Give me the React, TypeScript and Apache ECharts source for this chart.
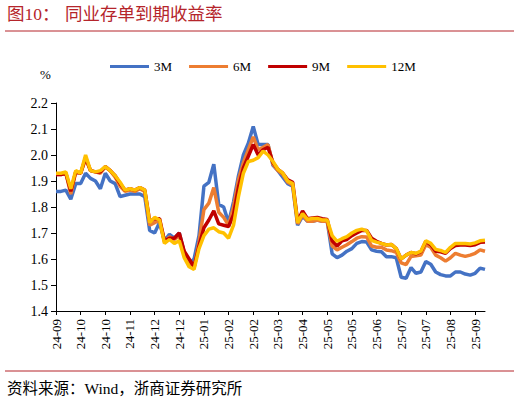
import React, { useEffect, useRef } from "react";
import * as echarts from "echarts";

const tickLabels = [
  "24-09", "24-10", "24-10", "24-11", "24-12", "24-12", "25-01", "25-02", "25-02",
  "25-03", "25-04", "25-05", "25-05", "25-06", "25-07", "25-07", "25-08", "25-09",
];
const POINTS_PER_TICK = 5;
const seriesNames = ["3M", "6M", "9M", "12M"];
const seriesColors = ["#4472C4", "#ED7D31", "#C00000", "#FFC000"];

const y3M = [
  1.86, 1.86, 1.865, 1.83, 1.89, 1.89, 1.93, 1.91, 1.9, 1.87,
  1.93, 1.9, 1.89, 1.84, 1.845, 1.85, 1.85, 1.85, 1.84, 1.71,
  1.7, 1.74, 1.67, 1.695, 1.68, 1.7, 1.625, 1.58, 1.6, 1.69,
  1.88, 1.895, 1.965, 1.81, 1.8, 1.74, 1.82, 1.92, 2.0, 2.045,
  2.11, 2.04, 2.04, 2.04, 1.96, 1.94, 1.915, 1.89, 1.88, 1.73,
  1.765, 1.745, 1.745, 1.75, 1.745, 1.745, 1.62, 1.605, 1.615, 1.63,
  1.64, 1.66, 1.667, 1.665, 1.635, 1.63, 1.628, 1.609, 1.609, 1.605,
  1.53, 1.526, 1.567, 1.545, 1.55, 1.59, 1.58, 1.55, 1.54, 1.535,
  1.535, 1.55, 1.55, 1.542, 1.538, 1.545, 1.565, 1.56,
];
const y6M = [
  1.925, 1.925, 1.93, 1.85, 1.935, 1.93, 1.985, 1.94, 1.935, 1.93,
  1.955, 1.94, 1.915, 1.88, 1.86, 1.865, 1.86, 1.87, 1.86, 1.73,
  1.74, 1.75, 1.665, 1.685, 1.675, 1.69, 1.625, 1.59, 1.565, 1.665,
  1.79, 1.815, 1.875, 1.78, 1.76, 1.73, 1.8, 1.905, 1.97, 2.02,
  2.07, 2.02, 2.03, 2.04, 1.965, 1.94, 1.925, 1.895, 1.885, 1.735,
  1.77, 1.745, 1.745, 1.75, 1.745, 1.745, 1.65, 1.635, 1.645, 1.655,
  1.667, 1.68, 1.686, 1.685, 1.65, 1.645, 1.645, 1.635, 1.632, 1.626,
  1.585, 1.578, 1.61, 1.612, 1.615, 1.655, 1.645, 1.615, 1.605, 1.592,
  1.605, 1.622, 1.615, 1.61, 1.615, 1.622, 1.635, 1.63,
];
const y9M = [
  1.925, 1.925, 1.93, 1.86, 1.935, 1.93, 1.99, 1.94, 1.935, 1.935,
  1.955, 1.94, 1.92, 1.89, 1.865, 1.87, 1.865, 1.875, 1.865, 1.745,
  1.755, 1.755, 1.67, 1.68, 1.68, 1.7, 1.63, 1.6, 1.57, 1.65,
  1.72, 1.75, 1.785, 1.735, 1.73, 1.725, 1.77, 1.875, 1.95, 1.995,
  2.04, 2.0, 2.02, 2.03, 1.97, 1.945, 1.93, 1.905, 1.895, 1.745,
  1.785, 1.755, 1.758, 1.76, 1.755, 1.752, 1.67, 1.65, 1.67, 1.675,
  1.69, 1.7, 1.71, 1.71, 1.68, 1.668, 1.66, 1.654, 1.656, 1.64,
  1.6, 1.615, 1.625, 1.62, 1.628, 1.668, 1.655, 1.63, 1.628, 1.622,
  1.64, 1.652, 1.654, 1.654, 1.652, 1.655, 1.664, 1.665,
];
const y12M = [
  1.93, 1.93, 1.935, 1.87, 1.94, 1.93, 2.0, 1.94, 1.935, 1.94,
  1.955, 1.94, 1.92, 1.895, 1.865, 1.87, 1.865, 1.875, 1.865, 1.74,
  1.76, 1.75, 1.66, 1.675, 1.66, 1.67, 1.605, 1.57, 1.56, 1.64,
  1.69, 1.715, 1.72, 1.705, 1.7, 1.68, 1.73, 1.84, 1.93, 1.975,
  1.98, 1.99, 2.015, 2.0, 1.975, 1.945, 1.93, 1.9, 1.89, 1.74,
  1.775, 1.752, 1.756, 1.756, 1.75, 1.75, 1.69, 1.668, 1.678, 1.686,
  1.7, 1.71, 1.715, 1.708, 1.672, 1.665, 1.66, 1.654, 1.656, 1.64,
  1.6, 1.615, 1.625, 1.622, 1.63, 1.67, 1.66, 1.637, 1.633, 1.625,
  1.645, 1.66, 1.66, 1.66, 1.658, 1.662, 1.67, 1.672,
];
const seriesValues = [y3M, y6M, y9M, y12M];

const categories = y3M.map((_, i) => tickLabels[Math.min(Math.floor(i / POINTS_PER_TICK), tickLabels.length - 1)]);

const SERIF = "'Liberation Serif', 'Times New Roman', 'Noto Sans CJK SC', serif";
const TITLE_RED = "#B5252B";

export default function App() {
  const ref = useRef<HTMLDivElement>(null);
  useEffect(() => {
    if (!ref.current) return;
    const chart = echarts.init(ref.current, null, { renderer: "svg" });
    chart.setOption({
      animation: false,
      backgroundColor: "#ffffff",
      grid: { left: 56, right: 35, top: 103, bottom: 91, containLabel: false },
      legend: {
        data: seriesNames,
        left: 110,
        top: 60,
        padding: 0,
        icon: "rect",
        itemWidth: 39,
        itemHeight: 3,
        itemGap: 17,
        textStyle: { fontFamily: SERIF, fontSize: 13, color: "#000" },
      },
      xAxis: {
        type: "category",
        boundaryGap: false,
        data: categories,
        axisLine: { lineStyle: { color: "#000", width: 1 } },
        axisTick: { length: 4, lineStyle: { color: "#000" } },
        axisLabel: {
          interval: POINTS_PER_TICK - 1,
          rotate: 90,
          margin: 8,
          fontFamily: SERIF,
          fontSize: 13,
          color: "#000",
        },
        splitLine: { show: false },
      },
      yAxis: {
        type: "value",
        min: 1.4,
        max: 2.2,
        interval: 0.1,
        axisLine: { show: true, lineStyle: { color: "#000", width: 1 } },
        axisTick: { show: true, length: 5, lineStyle: { color: "#000" } },
        axisLabel: {
          margin: 8,
          fontFamily: SERIF,
          fontSize: 14,
          color: "#000",
          formatter: (v: number) => v.toFixed(1),
        },
        splitLine: { show: false },
      },
      series: seriesNames.map((name, k) => ({
        name,
        type: "line",
        data: seriesValues[k],
        symbol: "none",
        smooth: false,
        color: seriesColors[k],
        lineStyle: { width: 3.5, color: seriesColors[k] },
        z: 2 + k,
      })),
      graphic: [
        {
          type: "text",
          left: 7,
          top: 5,
          style: { text: "图10：", fontFamily: SERIF, fontSize: 17.5, fill: TITLE_RED },
        },
        {
          type: "text",
          left: 65,
          top: 5,
          style: { text: "同业存单到期收益率", fontFamily: SERIF, fontSize: 17.5, fill: TITLE_RED },
        },
        {
          type: "line",
          shape: { x1: 5, y1: 31, x2: 514, y2: 31 },
          style: { stroke: TITLE_RED, lineWidth: 1 },
        },
        {
          type: "text",
          left: 40,
          top: 68,
          style: { text: "%", fontFamily: SERIF, fontSize: 13, fill: "#000" },
        },
        {
          type: "line",
          shape: { x1: 5, y1: 371, x2: 514, y2: 371 },
          style: { stroke: TITLE_RED, lineWidth: 1 },
        },
        {
          type: "text",
          left: 7,
          top: 381,
          style: { text: "资料来源：Wind，浙商证券研究所", fontFamily: SERIF, fontSize: 15.5, fill: "#000" },
        },
      ],
    });
    return () => chart.dispose();
  }, []);
  return (
    <div
      ref={ref}
      style={{ position: "fixed", left: 0, top: 0, width: 520, height: 402, background: "#fff" }}
    />
  );
}
